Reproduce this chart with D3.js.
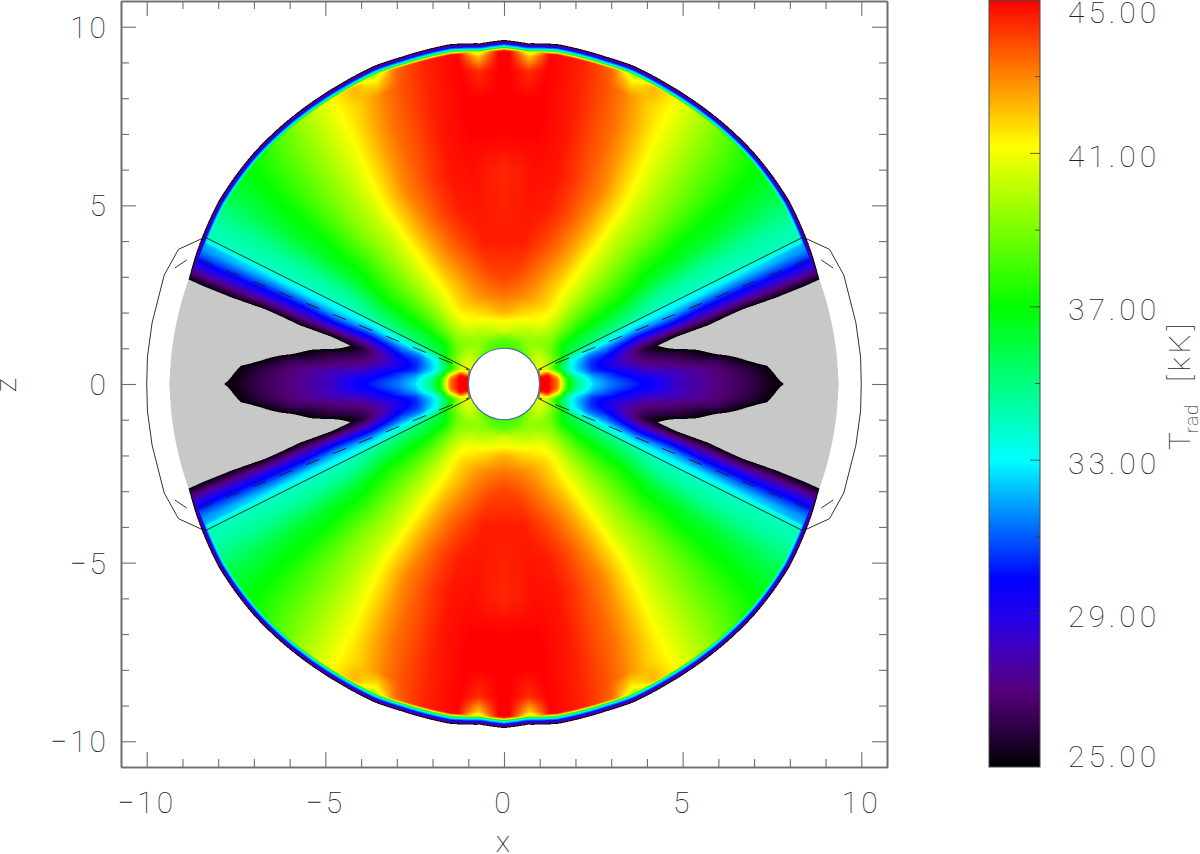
<!DOCTYPE html>
<html><head><meta charset="utf-8">
<script src="https://cdn.jsdelivr.net/npm/d3@7"></script>
<style>
html,body{margin:0;padding:0;background:#fff}
svg{display:block}
text{font-family:Roboto,sans-serif;font-weight:100;fill:#222;opacity:.99}
</style></head><body>
<svg id="chart" width="1200" height="854"></svg>
<script>
// Angles from the pole (degrees) and radii of the estimated temperature grid
const thetas=[0,1,4.5,8,14,19,23,27,32,38,44,50,55,60,64,65,66,68,70,72,74,76,78,80,82,84,86,88,90];
const radii=[1,1.25,1.5,1.75,2,2.5,3,4,5,6,7,8,8.8,9.2,9.7];
// Trad in kK, one row per radius, one column per angle (quadrant is mirrored)
const trad=[
[38,38,38,38,38,38,38.2,38.3,38.5,39,39.5,40,40.3,40.6,41,41,41,41,41,41.5,42,43,44,45,45,45,45,45,45],
[38.5,38.5,38.5,38.6,38.8,38.9,39,39.1,39.3,39.6,39.9,40.2,40.4,40.5,40.5,40.5,40.5,40.5,40.5,40.7,42,43.5,44.5,45,45,45,45,45,45],
[40.5,40.5,40.4,40.2,40,39.9,39.7,39.6,39.5,39.3,39.3,39.3,39.2,39.1,39,38.9,38.8,38.8,38.2,37.6,37.8,38.6,40,41.3,42.3,43,43.3,43.3,43.3],
[41.2,41.2,41.1,41,40.8,40.6,40.5,40.4,40.3,39.8,39.3,38.8,38,37.7,37.5,37.3,37,36.8,36.2,35.3,35,35,35.4,35.8,36.5,37.3,37.7,37.9,38],
[42.3,42.3,42.2,42,41.7,41.5,41.3,41.2,41,40.3,39.5,38.3,37.2,36.6,36,35.8,35.5,34.5,33.7,33,33,32.8,32.8,33,33.6,34.4,34.9,35.1,35.2],
[43.3,43.3,43.2,43.1,42.8,42.5,42.2,41.9,41.4,40.5,39.3,38.2,37,36,35.5,35,34.5,33.5,32.2,31.3,30.8,30.5,30.4,30.5,30.8,31.5,32,32.4,32.6],
[44,44,43.9,43.8,43.3,42.9,42.4,42,41.3,40.4,39.3,38,37,36,35,34.5,34,33,31.8,31,30.2,29.7,29.2,29,29.5,30.3,30.7,31.1,31.3],
[44.6,44.6,44.6,44.6,44.1,43.6,43.1,42.5,41.5,40.4,39.2,38,37,35.5,34.5,33.6,33,31.8,30.3,28.7,27.3,26,26.3,26.8,27.3,28,28.8,29.5,29.8],
[44.5,44.5,44.6,44.7,44.6,44.1,43.5,42.8,41.7,40.2,39,37.5,36.4,34.7,33.9,33.2,32.8,31.8,30,27.9,25.7,23.7,24.6,25.8,26.4,27,27.8,28,28],
[44.4,44.5,44.6,44.8,44.7,44.2,43.6,43,41.7,40.2,39,37.4,36.3,34.6,33.9,33.1,32.6,30.8,29,27,24.9,22.5,23,24.2,25,26.4,26.9,27,27],
[45,45,45,45,44.7,44,43.5,42.7,41.4,40,38.8,37.3,36.3,34.6,33.9,33,32.2,30.4,28.5,25.9,23,22,22,22,23.5,24.4,25.6,26,26],
[45,45,45,45,44.6,43.9,43.3,42.4,41.1,39.8,38.5,37.2,36.2,34.6,34,32.6,32,30.2,28,25.6,22.5,21,21,21,21,22,24,24.3,24.8],
[45,45,44.3,45,44.5,43.8,43,42,41,39.6,38.3,37,36,34.6,34,32.2,31.8,30.1,27.8,25,21,21,21,21,21,21,21,21,21],
[45,45,42,45,44.5,43.5,41.3,42.3,41,39.5,38,36.9,36,34.6,34,32,31.7,30,27.5,24.6,21,21,21,21,21,21,21,21,21],
[45,45,35,45,44.3,43,36.5,42,41,39.4,38,36.8,35.9,34.6,34,32,31.6,30,27.3,24.2,21,21,21,21,21,21,21,21,21]
];
// Outer boundary of the model, radius against angle
const rimThetas=[0,4,9,13.6,17.6,22,26,28.7,36,47,57.3,64,71.5,80,90];
const rimRadii=[9.63,9.56,9.63,9.61,9.6,9.62,9.59,9.57,9.55,9.54,9.49,9.4,9.3,9.33,9.36];
// Temperature drop towards the rim: depth below the rim and its ceiling in kK
const limbDepths=[0,0.03,0.1,0.17,0.21,0.24,0.3];
const limbTrad=[25,26,29.9,33,37,41,45];
// Overlaid contours (upper right quadrant, mirrored)
const solidContour=[[0.97,0.41],[8.37,4.11],[9.11,3.77],[9.51,3.05],[9.85,1.71],[9.98,0.76],[10,0]];
const dashedContour=[[0.99,0.39],[8.73,3.57],[9.51,3.05]];
const innerArc=[[0.97,0.41],[0.99,0.2],[0.995,0],[0.99,-0.2],[0.97,-0.41]];
const starRadius=1;
// Axis and colour bar labels
const axisMajor=[-10,-5,0,5,10];
const axisMinor=[-9,-8,-7,-6,-4,-3,-2,-1,1,2,3,4,6,7,8,9];
const barMajor=[45,41,37,33,29,25];
const barMinor=[43,39,35,31,27];
const barStops=[25,26,27,28,29,29.9,33,37,41.2,45];
const barColors=["#000000","#2e0044","#55007c","#4400b8","#2000ee","#0000ff","#00ffff","#00ff00","#ffff00","#ff0000"];
const belowRange="#c8c8c8";

const svg=d3.select("#chart");
const F={l:121,r:887,t:1,b:767};
const x=d3.scaleLinear().domain([-10.72,10.72]).range([F.l,F.r]);
const y=d3.scaleLinear().domain([-10.72,10.72]).range([F.b,F.t]);
const color=d3.scaleLinear().domain(barStops).range(barColors).clamp(true);
const fmtMinus=v=>(v<0?"\u2212":"")+Math.abs(v);

function lerpIn(xs,ys,v){
  let i=d3.bisectRight(xs,v)-1; i=Math.max(0,Math.min(xs.length-2,i));
  const t=(v-xs[i])/(xs[i+1]-xs[i]); return ys[i]+(ys[i+1]-ys[i])*t;
}
function field(r,th){
  let i=Math.min(radii.length-2,Math.max(0,d3.bisectRight(radii,r)-1));
  let j=Math.min(thetas.length-2,Math.max(0,d3.bisectRight(thetas,th)-1));
  const u=Math.min(1,(r-radii[i])/(radii[i+1]-radii[i])), v=(th-thetas[j])/(thetas[j+1]-thetas[j]);
  return (1-u)*((1-v)*trad[i][j]+v*trad[i][j+1])+u*((1-v)*trad[i+1][j]+v*trad[i+1][j+1]);
}
// Raster of the field, 2x supersampled
const SS=2, W=(F.r-F.l)*SS, H=(F.b-F.t)*SS;
const cv=document.createElement("canvas"); cv.width=W; cv.height=H;
const ctx=cv.getContext("2d"), img=ctx.createImageData(W,H), px=img.data;
const LUT=d3.range(1025).map(i=>d3.rgb(color(25+20*i/1024)));
const gray=d3.rgb(belowRange);
for(let jy=0;jy<H;jy++){
  const zv=Math.abs(y.invert(F.t+(jy+.5)/SS));
  for(let ix=0;ix<W;ix++){
    const xv=Math.abs(x.invert(F.l+(ix+.5)/SS));
    const r=Math.hypot(xv,zv);
    if(r<starRadius||r>9.7) continue;
    const th=Math.atan2(xv,zv)*180/Math.PI;
    const rim=lerpIn(rimThetas,rimRadii,th);
    if(r>rim) continue;
    let T=field(r,th);
    const k=(jy*W+ix)*4; let c;
    if(T<25) c=gray;
    else{
      const d=rim-r;
      if(d<0.3) T=Math.min(T,lerpIn(limbDepths,limbTrad,d));
      c=LUT[Math.round((Math.min(45,T)-25)/20*1024)];
    }
    px[k]=c.r;px[k+1]=c.g;px[k+2]=c.b;px[k+3]=255;
  }
}
ctx.putImageData(img,0,0);
svg.append("image").attr("x",F.l).attr("y",F.t).attr("width",F.r-F.l).attr("height",F.b-F.t)
  .attr("href",cv.toDataURL());

// Star
svg.append("circle").attr("cx",x(0)).attr("cy",y(0)).attr("r",x(starRadius)-x(0))
  .attr("fill","#fff").attr("stroke","#4f6c9a").attr("stroke-width",1.2);
// Contours in four quadrants
const line=d3.line().x(d=>x(d[0])).y(d=>y(d[1]));
const quad=[[1,1],[-1,1],[1,-1],[-1,-1]];
quad.forEach(([a,b])=>{
  const m=p=>p.map(d=>[d[0]*a,d[1]*b]);
  svg.append("path").attr("d",line(m(solidContour))).attr("fill","none").attr("stroke","#1a1a1a").attr("stroke-width",0.9);
  svg.append("path").attr("d",line(m(dashedContour))).attr("fill","none").attr("stroke","#1a1a1a").attr("stroke-width",0.9)
    .attr("stroke-dasharray","14.4 14.4").attr("stroke-dashoffset",11.4);
});
[1,-1].forEach(a=>svg.append("path").attr("d",line(innerArc.map(d=>[d[0]*a,d[1]]))).attr("fill","none").attr("stroke","#666").attr("stroke-width",1.3));

// Axes
const axisColor="#6e6e6e";
const gAx=svg.append("g");
function ax(gen,tx,vals,size){
  const g=gAx.append("g").attr("transform",tx).call(gen.tickValues(vals).tickSize(-size).tickSizeOuter(0).tickFormat(""));
  g.selectAll("line").attr("stroke",axisColor).attr("stroke-width",1.1);
  g.select(".domain").attr("stroke",axisColor).attr("stroke-width",1.6);
}
[[axisMajor,15],[axisMinor,8]].forEach(([v,s])=>{
  ax(d3.axisBottom(x),`translate(0,${F.b})`,v,s);
  ax(d3.axisTop(x),`translate(0,${F.t})`,v,s);
  ax(d3.axisLeft(y),`translate(${F.l},0)`,v,s);
  ax(d3.axisRight(y),`translate(${F.r},0)`,v,s);
});
gAx.selectAll("text").remove();
const fs=30;
svg.append("g").selectAll("text").data(axisMajor).join("text")
  .attr("x",d=>x(d)).attr("y",813).attr("text-anchor","middle").attr("font-size",fs).attr("letter-spacing",3).text(fmtMinus);
svg.append("g").selectAll("text").data(axisMajor).join("text")
  .attr("x",109).attr("y",d=>y(d)+11).attr("text-anchor","end").attr("font-size",fs).attr("letter-spacing",3).text(fmtMinus);
svg.append("text").attr("x",503).attr("y",852).attr("text-anchor","middle").attr("font-size",fs).text("x");
svg.append("text").attr("transform","translate(16,385) rotate(-90)").attr("text-anchor","middle").attr("font-size",fs).text("z");

// Colour bar
const barY=d3.scaleLinear().domain([25,45]).range([767,0]);
const bar={x:989,w:51};
const grad=svg.append("defs").append("linearGradient").attr("id","cb").attr("x1",0).attr("x2",0).attr("y1",1).attr("y2",0);
barStops.forEach((s,i)=>grad.append("stop").attr("offset",(s-25)/20).attr("stop-color",barColors[i]));
svg.append("rect").attr("x",bar.x).attr("y",barY(45)+.5).attr("width",bar.w).attr("height",barY(25)-barY(45)-.5)
  .attr("fill","url(#cb)").attr("stroke","#4a4a4a").attr("stroke-width",1);
const tick=(vals,len)=>svg.append("g").selectAll("line").data(vals).join("line")
  .attr("x1",bar.x+bar.w-len).attr("x2",bar.x+bar.w).attr("y1",d=>barY(d)).attr("y2",d=>barY(d))
  .attr("stroke","#333").attr("stroke-opacity",.75).attr("stroke-width",1);
tick(barMajor.slice(1,-1),10); tick(barMinor,5);
svg.append("g").selectAll("text").data(barMajor).join("text")
  .attr("x",1068).attr("y",d=>Math.min(767,Math.max(23,barY(d)+13.5)))
  .attr("font-size",fs).attr("letter-spacing",4).text(d=>d.toFixed(2));
const lab=svg.append("text").attr("transform","translate(1190,450) rotate(-90)").attr("font-size",fs);
lab.append("tspan").attr("x",0).attr("y",0).text("T");
lab.append("tspan").attr("x",17).attr("y",8).attr("font-size",19).attr("letter-spacing",1).text("rad");
lab.append("tspan").attr("x",68).attr("y",0).attr("letter-spacing",4).text("[kK]");
</script>
</body></html>
